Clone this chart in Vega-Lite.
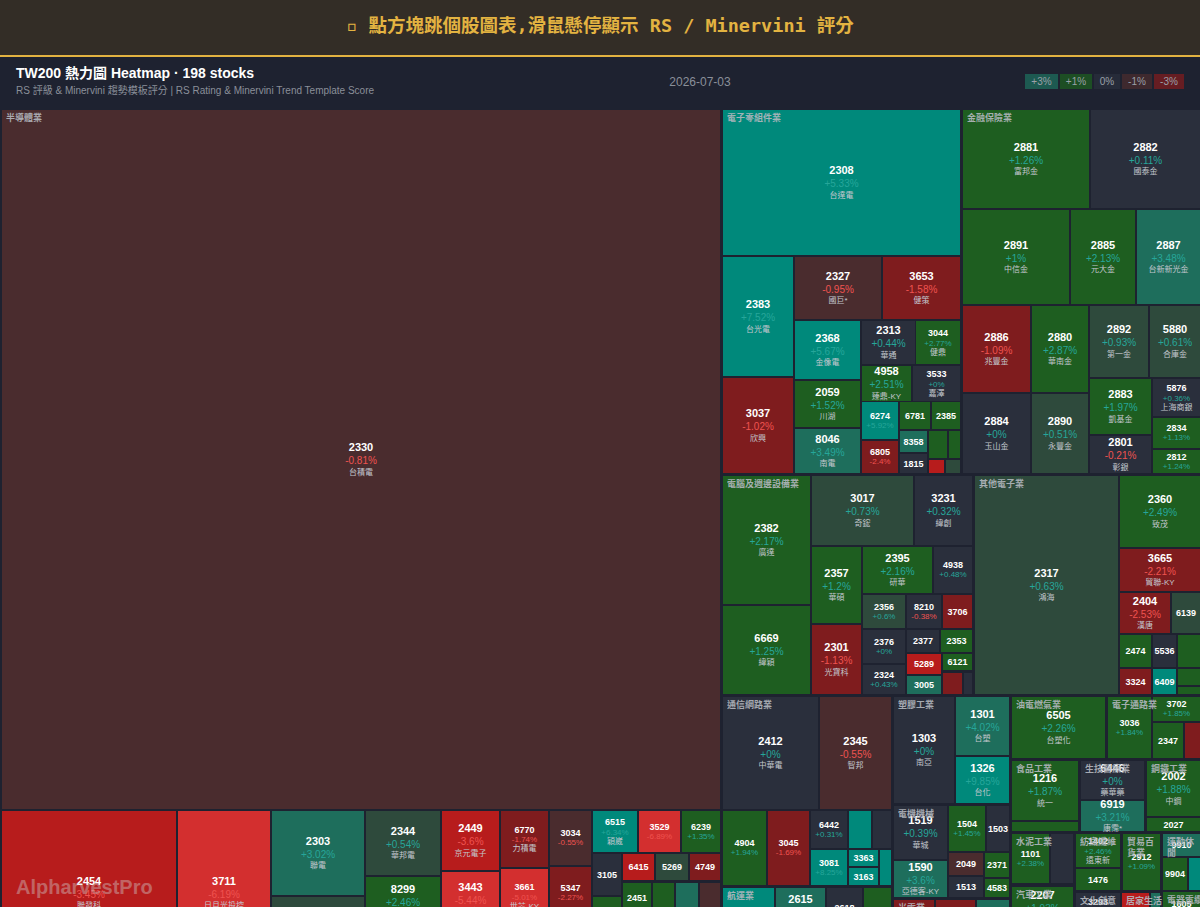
{
"$schema":"https://vega.github.io/schema/vega-lite/v6.json",
"width":1200,"height":907,"autosize":{"type":"fit","contains":"padding"},"padding":0,
"background":"#1e2230",
"config":{"view":{"stroke":null},"text":{"font":"Liberation Sans, Noto Sans CJK TC"}},
"datasets":{
"cells":[
{"c":"2330","n":"台積電","p":-0.81,"x0":2,"x1":720,"y0":110,"y1":809},
{"c":"2454","n":"聯發科","p":-3.45,"x0":2,"x1":176,"y0":811,"y1":975},
{"c":"3711","n":"日月光投控","p":-6.19,"x0":178,"x1":270,"y0":811,"y1":975},
{"c":"2303","n":"聯電","p":3.02,"x0":272,"x1":364,"y0":811,"y1":895},
{"c":"","n":"","p":0.7,"x0":272,"x1":364,"y0":897,"y1":960},
{"c":"2344","n":"華邦電","p":0.54,"x0":366,"x1":440,"y0":811,"y1":875},
{"c":"8299","n":"群聯","p":2.46,"x0":366,"x1":440,"y0":877,"y1":925},
{"c":"2449","n":"京元電子","p":-3.6,"x0":442,"x1":499,"y0":811,"y1":870},
{"c":"3443","n":"創意","p":-5.44,"x0":442,"x1":499,"y0":872,"y1":926},
{"c":"6770","n":"力積電","p":-1.74,"x0":501,"x1":548,"y0":811,"y1":867},
{"c":"3661","n":"世芯-KY","p":-5.01,"x0":501,"x1":548,"y0":869,"y1":924},
{"c":"3034","n":"聯詠","p":-0.55,"x0":550,"x1":591,"y0":811,"y1":865},
{"c":"5347","n":"世界","p":-2.27,"x0":550,"x1":591,"y0":867,"y1":919},
{"c":"6515","n":"穎崴","p":6.34,"x0":593,"x1":637,"y0":811,"y1":852},
{"c":"3529","n":"力旺","p":-6.89,"x0":639,"x1":680,"y0":811,"y1":852},
{"c":"6239","n":"力成","p":1.35,"x0":682,"x1":720,"y0":811,"y1":852},
{"c":"3105","n":"穩懋","p":0.2,"x0":593,"x1":621,"y0":854,"y1":895},
{"c":"6415","n":"矽力*-KY","p":-3.8,"x0":623,"x1":654,"y0":854,"y1":880},
{"c":"5269","n":"祥碩","p":0.8,"x0":656,"x1":688,"y0":854,"y1":880},
{"c":"4749","n":"新應材","p":-1.9,"x0":690,"x1":720,"y0":854,"y1":880},
{"c":"2451","n":"創見","p":1.5,"x0":623,"x1":651,"y0":883,"y1":913},
{"c":"","n":"","p":1.8,"x0":653,"x1":674,"y0":883,"y1":940},
{"c":"","n":"","p":3.5,"x0":676,"x1":698,"y0":883,"y1":940},
{"c":"","n":"","p":-0.7,"x0":700,"x1":720,"y0":883,"y1":940},
{"c":"","n":"","p":1.6,"x0":593,"x1":621,"y0":897,"y1":940},
{"c":"2308","n":"台達電","p":5.33,"x0":723,"x1":960,"y0":110,"y1":255},
{"c":"2383","n":"台光電","p":7.52,"x0":723,"x1":793,"y0":257,"y1":376},
{"c":"3037","n":"欣興","p":-1.02,"x0":723,"x1":793,"y0":378,"y1":473},
{"c":"2327","n":"國巨*","p":-0.95,"x0":795,"x1":881,"y0":257,"y1":319},
{"c":"3653","n":"健策","p":-1.58,"x0":883,"x1":960,"y0":257,"y1":319},
{"c":"2368","n":"金像電","p":5.67,"x0":795,"x1":860,"y0":321,"y1":379},
{"c":"2059","n":"川湖","p":1.52,"x0":795,"x1":860,"y0":381,"y1":427},
{"c":"8046","n":"南電","p":3.49,"x0":795,"x1":860,"y0":429,"y1":473},
{"c":"2313","n":"華通","p":0.44,"x0":862,"x1":915,"y0":321,"y1":364},
{"c":"3044","n":"健鼎","p":2.77,"x0":916,"x1":960,"y0":321,"y1":364},
{"c":"4958","n":"臻鼎-KY","p":2.51,"x0":862,"x1":911,"y0":366,"y1":401},
{"c":"3533","n":"嘉澤","p":0,"x0":913,"x1":960,"y0":366,"y1":401},
{"c":"6274","n":"台燿","p":5.92,"x0":862,"x1":898,"y0":402,"y1":439},
{"c":"6805","n":"富世達","p":-2.4,"x0":862,"x1":898,"y0":441,"y1":473},
{"c":"6781","n":"AES-KY","p":1.5,"x0":900,"x1":930,"y0":402,"y1":429},
{"c":"2385","n":"群光","p":1.2,"x0":932,"x1":960,"y0":402,"y1":429},
{"c":"8358","n":"金居","p":3.3,"x0":900,"x1":927,"y0":431,"y1":452},
{"c":"1815","n":"富喬","p":0.1,"x0":900,"x1":927,"y0":454,"y1":473},
{"c":"","n":"","p":1.4,"x0":929,"x1":947,"y0":431,"y1":458},
{"c":"","n":"","p":1.1,"x0":949,"x1":960,"y0":431,"y1":458},
{"c":"","n":"","p":-3.5,"x0":929,"x1":944,"y0":460,"y1":473},
{"c":"","n":"","p":0.6,"x0":946,"x1":960,"y0":460,"y1":473},
{"c":"2881","n":"富邦金","p":1.26,"x0":963,"x1":1089,"y0":110,"y1":208},
{"c":"2882","n":"國泰金","p":0.11,"x0":1091,"x1":1200,"y0":110,"y1":208},
{"c":"2891","n":"中信金","p":1,"x0":963,"x1":1069,"y0":210,"y1":304},
{"c":"2885","n":"元大金","p":2.13,"x0":1071,"x1":1135,"y0":210,"y1":304},
{"c":"2887","n":"台新新光金","p":3.48,"x0":1137,"x1":1200,"y0":210,"y1":304},
{"c":"2886","n":"兆豐金","p":-1.09,"x0":963,"x1":1030,"y0":306,"y1":392},
{"c":"2880","n":"華南金","p":2.87,"x0":1032,"x1":1088,"y0":306,"y1":392},
{"c":"2884","n":"玉山金","p":0,"x0":963,"x1":1030,"y0":394,"y1":473},
{"c":"2890","n":"永豐金","p":0.51,"x0":1032,"x1":1088,"y0":394,"y1":473},
{"c":"2892","n":"第一金","p":0.93,"x0":1090,"x1":1148,"y0":306,"y1":377},
{"c":"5880","n":"合庫金","p":0.61,"x0":1150,"x1":1200,"y0":306,"y1":377},
{"c":"2883","n":"凱基金","p":1.97,"x0":1090,"x1":1151,"y0":379,"y1":434},
{"c":"2801","n":"彰銀","p":-0.21,"x0":1090,"x1":1151,"y0":436,"y1":473},
{"c":"5876","n":"上海商銀","p":0.36,"x0":1153,"x1":1200,"y0":379,"y1":416},
{"c":"2834","n":"臺企銀","p":1.13,"x0":1153,"x1":1200,"y0":418,"y1":448},
{"c":"2812","n":"台中銀","p":1.24,"x0":1153,"x1":1200,"y0":450,"y1":473},
{"c":"2382","n":"廣達","p":2.17,"x0":723,"x1":810,"y0":476,"y1":604},
{"c":"6669","n":"緯穎","p":1.25,"x0":723,"x1":810,"y0":606,"y1":694},
{"c":"3017","n":"奇鋐","p":0.73,"x0":812,"x1":913,"y0":476,"y1":545},
{"c":"3231","n":"緯創","p":0.32,"x0":915,"x1":972,"y0":476,"y1":545},
{"c":"2357","n":"華碩","p":1.2,"x0":812,"x1":861,"y0":547,"y1":623},
{"c":"2301","n":"光寶科","p":-1.13,"x0":812,"x1":861,"y0":625,"y1":694},
{"c":"2395","n":"研華","p":2.16,"x0":863,"x1":932,"y0":547,"y1":593},
{"c":"4938","n":"和碩","p":0.48,"x0":934,"x1":972,"y0":547,"y1":593},
{"c":"2356","n":"英業達","p":0.6,"x0":863,"x1":905,"y0":595,"y1":628},
{"c":"2376","n":"技嘉","p":0,"x0":863,"x1":905,"y0":630,"y1":663},
{"c":"2324","n":"仁寶","p":0.43,"x0":863,"x1":905,"y0":665,"y1":694},
{"c":"8210","n":"勤誠","p":-0.38,"x0":907,"x1":941,"y0":595,"y1":628},
{"c":"3706","n":"神達","p":-1.5,"x0":943,"x1":972,"y0":595,"y1":628},
{"c":"2377","n":"微星","p":0.2,"x0":907,"x1":939,"y0":630,"y1":652},
{"c":"2353","n":"宏碁","p":1.3,"x0":941,"x1":972,"y0":630,"y1":652},
{"c":"5289","n":"宜鼎","p":-3.5,"x0":907,"x1":941,"y0":654,"y1":674},
{"c":"6121","n":"新普","p":1.4,"x0":943,"x1":972,"y0":654,"y1":670},
{"c":"3005","n":"神基","p":3.4,"x0":907,"x1":941,"y0":676,"y1":694},
{"c":"","n":"","p":-1.3,"x0":943,"x1":962,"y0":673,"y1":694},
{"c":"","n":"","p":0.1,"x0":964,"x1":972,"y0":673,"y1":694},
{"c":"2317","n":"鴻海","p":0.63,"x0":975,"x1":1118,"y0":476,"y1":694},
{"c":"2360","n":"致茂","p":2.49,"x0":1120,"x1":1200,"y0":476,"y1":547},
{"c":"3665","n":"貿聯-KY","p":-2.21,"x0":1120,"x1":1200,"y0":549,"y1":591},
{"c":"2404","n":"漢唐","p":-2.53,"x0":1120,"x1":1170,"y0":593,"y1":633},
{"c":"6139","n":"亞翔","p":0.7,"x0":1172,"x1":1200,"y0":593,"y1":633},
{"c":"2474","n":"可成","p":1.6,"x0":1120,"x1":1151,"y0":635,"y1":667},
{"c":"5536","n":"聖暉*","p":0.2,"x0":1153,"x1":1176,"y0":635,"y1":667},
{"c":"","n":"","p":1.2,"x0":1178,"x1":1200,"y0":635,"y1":667},
{"c":"3324","n":"雙鴻","p":-1.8,"x0":1120,"x1":1151,"y0":669,"y1":694},
{"c":"6409","n":"旭隼","p":6,"x0":1153,"x1":1176,"y0":669,"y1":694},
{"c":"","n":"","p":1.3,"x0":1178,"x1":1200,"y0":669,"y1":685},
{"c":"","n":"","p":1.1,"x0":1178,"x1":1200,"y0":687,"y1":694},
{"c":"2412","n":"中華電","p":0,"x0":723,"x1":818,"y0":697,"y1":809},
{"c":"2345","n":"智邦","p":-0.55,"x0":820,"x1":891,"y0":697,"y1":809},
{"c":"4904","n":"遠傳","p":1.94,"x0":723,"x1":766,"y0":811,"y1":885},
{"c":"3045","n":"台灣大","p":-1.69,"x0":768,"x1":809,"y0":811,"y1":885},
{"c":"6442","n":"光聖","p":0.31,"x0":811,"x1":847,"y0":811,"y1":848},
{"c":"","n":"","p":6,"x0":849,"x1":871,"y0":811,"y1":848},
{"c":"","n":"","p":0.1,"x0":873,"x1":891,"y0":811,"y1":848},
{"c":"3081","n":"聯亞","p":8.25,"x0":811,"x1":847,"y0":850,"y1":885},
{"c":"3363","n":"上詮","p":5.5,"x0":849,"x1":878,"y0":850,"y1":866},
{"c":"3163","n":"波若威","p":5.2,"x0":849,"x1":878,"y0":868,"y1":885},
{"c":"","n":"","p":5.1,"x0":880,"x1":891,"y0":850,"y1":885},
{"c":"","n":"","p":6,"x0":723,"x1":774,"y0":888,"y1":950},
{"c":"2615","n":"萬海","p":3.3,"x0":776,"x1":825,"y0":888,"y1":934},
{"c":"2618","n":"長榮航","p":0.2,"x0":827,"x1":862,"y0":888,"y1":938},
{"c":"","n":"","p":1.5,"x0":864,"x1":891,"y0":888,"y1":950},
{"c":"1303","n":"南亞","p":0,"x0":894,"x1":954,"y0":697,"y1":803},
{"c":"1301","n":"台塑","p":4.02,"x0":956,"x1":1009,"y0":697,"y1":755},
{"c":"1326","n":"台化","p":9.85,"x0":956,"x1":1009,"y0":757,"y1":803},
{"c":"1519","n":"華城","p":0.39,"x0":894,"x1":947,"y0":806,"y1":859},
{"c":"1590","n":"亞德客-KY","p":3.6,"x0":894,"x1":947,"y0":861,"y1":897},
{"c":"1504","n":"東元","p":1.45,"x0":949,"x1":985,"y0":806,"y1":851},
{"c":"1503","n":"士電","p":0.1,"x0":987,"x1":1009,"y0":806,"y1":851},
{"c":"2049","n":"上銀","p":-0.7,"x0":949,"x1":983,"y0":853,"y1":875},
{"c":"1513","n":"中興電","p":0.2,"x0":949,"x1":983,"y0":877,"y1":897},
{"c":"2371","n":"大同","p":1.5,"x0":985,"x1":1009,"y0":853,"y1":877},
{"c":"4583","n":"台灣精銳","p":1.6,"x0":985,"x1":1009,"y0":879,"y1":897},
{"c":"","n":"","p":-1.5,"x0":894,"x1":934,"y0":900,"y1":950},
{"c":"","n":"","p":-1.2,"x0":936,"x1":975,"y0":900,"y1":950},
{"c":"","n":"","p":3.5,"x0":977,"x1":1009,"y0":900,"y1":950},
{"c":"6505","n":"台塑化","p":2.26,"x0":1012,"x1":1105,"y0":697,"y1":758},
{"c":"3036","n":"文曄","p":1.84,"x0":1108,"x1":1151,"y0":697,"y1":758},
{"c":"3702","n":"大聯大","p":1.85,"x0":1153,"x1":1200,"y0":697,"y1":721},
{"c":"2347","n":"聯強","p":1.3,"x0":1153,"x1":1183,"y0":723,"y1":758},
{"c":"","n":"","p":-1.4,"x0":1185,"x1":1200,"y0":723,"y1":758},
{"c":"1216","n":"統一","p":1.87,"x0":1012,"x1":1078,"y0":761,"y1":820},
{"c":"","n":"","p":1.5,"x0":1012,"x1":1078,"y0":822,"y1":831},
{"c":"6446","n":"藥華藥","p":0,"x0":1081,"x1":1144,"y0":761,"y1":799},
{"c":"6919","n":"康霈*","p":3.21,"x0":1081,"x1":1144,"y0":801,"y1":831},
{"c":"2002","n":"中鋼","p":1.88,"x0":1147,"x1":1200,"y0":761,"y1":816},
{"c":"2027","n":"大成鋼","p":1.2,"x0":1147,"x1":1200,"y0":818,"y1":831},
{"c":"1101","n":"台泥","p":2.38,"x0":1012,"x1":1049,"y0":834,"y1":883},
{"c":"","n":"","p":0.2,"x0":1051,"x1":1073,"y0":834,"y1":883},
{"c":"1402","n":"遠東新","p":2.46,"x0":1076,"x1":1120,"y0":834,"y1":867},
{"c":"1476","n":"儒鴻","p":1.4,"x0":1076,"x1":1120,"y0":869,"y1":890},
{"c":"2912","n":"統一超","p":1.09,"x0":1123,"x1":1160,"y0":834,"y1":890},
{"c":"9910","n":"豐泰","p":3.3,"x0":1163,"x1":1200,"y0":834,"y1":856},
{"c":"9904","n":"寶成","p":1.5,"x0":1163,"x1":1187,"y0":858,"y1":890},
{"c":"","n":"","p":6,"x0":1189,"x1":1200,"y0":858,"y1":890},
{"c":"2207","n":"和泰車","p":1.93,"x0":1012,"x1":1073,"y0":887,"y1":928},
{"c":"3293","n":"鈊象","p":0.2,"x0":1076,"x1":1120,"y0":893,"y1":929},
{"c":"","n":"","p":-4,"x0":1122,"x1":1149,"y0":893,"y1":930},
{"c":"","n":"","p":3.4,"x0":1151,"x1":1160,"y0":893,"y1":930},
{"c":"1605","n":"華新","p":1.2,"x0":1163,"x1":1200,"y0":892,"y1":926}
],
"sectors":[
{"s":"半導體業","x0":2,"y0":110},
{"s":"電子零組件業","x0":723,"y0":110},
{"s":"金融保險業","x0":963,"y0":110},
{"s":"電腦及週邊設備業","x0":723,"y0":476},
{"s":"其他電子業","x0":975,"y0":476},
{"s":"通信網路業","x0":723,"y0":697},
{"s":"塑膠工業","x0":894,"y0":697},
{"s":"電機機械","x0":894,"y0":806},
{"s":"油電燃氣業","x0":1012,"y0":697},
{"s":"電子通路業","x0":1108,"y0":697},
{"s":"食品工業","x0":1012,"y0":761},
{"s":"生技醫療業","x0":1081,"y0":761},
{"s":"鋼鐵工業","x0":1147,"y0":761},
{"s":"水泥工業","x0":1012,"y0":834},
{"s":"紡織纖維","x0":1076,"y0":834},
{"s":"貿易百\n貨業","x0":1123,"y0":834},
{"s":"運動休\n閒","x0":1163,"y0":834},
{"s":"航運業","x0":723,"y0":888},
{"s":"光電業","x0":894,"y0":900},
{"s":"汽車工業","x0":1012,"y0":887},
{"s":"文化創意","x0":1076,"y0":893},
{"s":"居家生活","x0":1122,"y0":893},
{"s":"電器電纜","x0":1163,"y0":892}
],
"legend":[
{"t":"+3%","p":3,"x0":1025,"x1":1058,"y0":74,"y1":89},
{"t":"+1%","p":1,"x0":1060,"x1":1092,"y0":74,"y1":89},
{"t":"0%","p":0,"x0":1094,"x1":1120,"y0":74,"y1":89},
{"t":"-1%","p":-1,"x0":1122,"x1":1152,"y0":74,"y1":89},
{"t":"-3%","p":-3,"x0":1154,"x1":1184,"y0":74,"y1":89}
]
},
"encoding":{
"x":{"field":"x0","type":"quantitative","scale":{"domain":[0,1200],"nice":false,"zero":false},"axis":null},
"y":{"field":"y0","type":"quantitative","scale":{"domain":[0,907],"reverse":true,"nice":false,"zero":false},"axis":null}
},
"layer":[
{"data":{"values":[{"x0":0,"x1":1200,"y0":0,"y1":55}]},"mark":{"type":"rect","color":"#332d26"},
 "encoding":{"x2":{"field":"x1"},"y2":{"field":"y1"}}},
{"data":{"values":[{"x0":0,"x1":1200,"y0":55,"y1":57}]},"mark":{"type":"rect","color":"#e3b341"},
 "encoding":{"x2":{"field":"x1"},"y2":{"field":"y1"}}},
{"data":{"name":"cells"},"mark":{"type":"rect","clip":true},
 "encoding":{"x2":{"field":"x1"},"y2":{"field":"y1"},
  "color":{"field":"p","type":"quantitative","legend":null,
   "scale":{"type":"threshold","domain":[-5,-3,-1,-0.5,0.5,1,3,5],
    "range":["#d32f2f","#b71c1c","#7f1c1e","#4a2c2e","#2a2f3c","#2e4a3c","#1e5e20","#1e6e5c","#00897b"]}}}},
{"data":{"name":"cells"},
 "transform":[
  {"calculate":"datum.x1-datum.x0","as":"w"},{"calculate":"datum.y1-datum.y0","as":"h"},
  {"calculate":"(datum.x0+datum.x1)/2","as":"cx"},{"calculate":"(datum.y0+datum.y1)/2","as":"cy"},
  {"calculate":"datum.w>=48 && datum.h>=28","as":"big"},
  {"calculate":"datum.c=='' ? 0 : ((datum.w>=44 && datum.h>=32) || (datum.w>=48 && datum.h>=28)) ? 3 : (datum.w>=34 && datum.h>=23) ? 2 : (datum.w>=22 && datum.h>=13) ? 1 : 0","as":"lv"},
  {"filter":"datum.lv>=1"},
  {"calculate":"datum.lv==3 ? (datum.big ? datum.cy-11.5 : datum.cy-9.3) : datum.lv==2 ? datum.cy-5 : datum.cy","as":"ty"},
  {"calculate":"datum.big ? 11 : 9","as":"fs"}
 ],
 "mark":{"type":"text","clip":true,"fontWeight":"bold","color":"#ffffff","baseline":"middle","align":"center"},
 "encoding":{"x":{"field":"cx","type":"quantitative"},"y":{"field":"ty","type":"quantitative"},
  "text":{"field":"c"},"size":{"field":"fs","type":"quantitative","scale":null}}},
{"data":{"name":"cells"},
 "transform":[
  {"calculate":"datum.x1-datum.x0","as":"w"},{"calculate":"datum.y1-datum.y0","as":"h"},
  {"calculate":"(datum.x0+datum.x1)/2","as":"cx"},{"calculate":"(datum.y0+datum.y1)/2","as":"cy"},
  {"calculate":"datum.w>=48 && datum.h>=28","as":"big"},
  {"calculate":"datum.c=='' ? 0 : ((datum.w>=44 && datum.h>=32) || (datum.w>=48 && datum.h>=28)) ? 3 : (datum.w>=34 && datum.h>=23) ? 2 : (datum.w>=22 && datum.h>=13) ? 1 : 0","as":"lv"},
  {"filter":"datum.lv>=2"},
  {"calculate":"datum.lv==3 ? (datum.big ? datum.cy+1.5 : datum.cy+1) : datum.cy+5.3","as":"ty"},
  {"calculate":"datum.big ? 10 : 8","as":"fs"},
  {"calculate":"(datum.p>=0 ? '+' : '') + datum.p + '%'","as":"pt"}
 ],
 "mark":{"type":"text","clip":true,"baseline":"middle","align":"center"},
 "encoding":{"x":{"field":"cx","type":"quantitative"},"y":{"field":"ty","type":"quantitative"},
  "text":{"field":"pt"},"size":{"field":"fs","type":"quantitative","scale":null},
  "color":{"condition":{"test":"datum.p>=0","value":"#26a69a"},"value":"#ef5350"}}},
{"data":{"name":"cells"},
 "transform":[
  {"calculate":"datum.x1-datum.x0","as":"w"},{"calculate":"datum.y1-datum.y0","as":"h"},
  {"calculate":"(datum.x0+datum.x1)/2","as":"cx"},{"calculate":"(datum.y0+datum.y1)/2","as":"cy"},
  {"calculate":"datum.w>=48 && datum.h>=28","as":"big"},
  {"calculate":"datum.c=='' ? 0 : ((datum.w>=44 && datum.h>=32) || (datum.w>=48 && datum.h>=28)) ? 3 : (datum.w>=34 && datum.h>=23) ? 2 : (datum.w>=22 && datum.h>=13) ? 1 : 0","as":"lv"},
  {"filter":"datum.lv==3"},
  {"calculate":"datum.big ? datum.cy+13 : datum.cy+10","as":"ty"}
 ],
 "mark":{"type":"text","clip":true,"baseline":"middle","align":"center","fontSize":8,"color":"#c3c7ce"},
 "encoding":{"x":{"field":"cx","type":"quantitative"},"y":{"field":"ty","type":"quantitative"},"text":{"field":"n"}}},
{"data":{"name":"sectors"},
 "transform":[{"calculate":"datum.x0+4","as":"lx"},{"calculate":"datum.y0+7.5","as":"ly"}],
 "mark":{"type":"text","clip":true,"align":"left","baseline":"middle","fontSize":9,"fontWeight":"bold","color":"#b4b8bf","opacity":0.9,"lineBreak":"\n","lineHeight":11},
 "encoding":{"x":{"field":"lx","type":"quantitative"},"y":{"field":"ly","type":"quantitative"},"text":{"field":"s"}}},
{"data":{"name":"legend"},"mark":{"type":"rect","opacity":0.75},
 "encoding":{"x2":{"field":"x1"},"y2":{"field":"y1"},
  "color":{"field":"p","type":"quantitative","legend":null,
   "scale":{"type":"threshold","domain":[-5,-3,-1,-0.5,0.5,1,3,5],
    "range":["#d32f2f","#b71c1c","#7f1c1e","#4a2c2e","#2a2f3c","#2e4a3c","#1e5e20","#1e6e5c","#00897b"]}}}},
{"data":{"name":"legend"},
 "transform":[{"calculate":"(datum.x0+datum.x1)/2","as":"cx"},{"calculate":"(datum.y0+datum.y1)/2","as":"cy"}],
 "mark":{"type":"text","align":"center","baseline":"middle","fontSize":10,"color":"#9aa0a8"},
 "encoding":{"x":{"field":"cx","type":"quantitative"},"y":{"field":"cy","type":"quantitative"},"text":{"field":"t"}}},
{"data":{"values":[{"t":"▫ 點方塊跳個股圖表,滑鼠懸停顯示 RS / Minervini 評分","x":600,"y":26}]},
 "mark":{"type":"text","align":"center","baseline":"middle","fontSize":18.5,"fontWeight":"bold","color":"#e3b341","font":"DejaVu Sans Mono, Noto Sans CJK TC"},
 "encoding":{"x":{"field":"x","type":"quantitative"},"y":{"field":"y","type":"quantitative"},"text":{"field":"t"}}},
{"data":{"values":[{"t":"TW200 熱力圖 Heatmap · 198 stocks","x":16,"y":74}]},
 "mark":{"type":"text","align":"left","baseline":"middle","fontSize":14,"fontWeight":"bold","color":"#ffffff"},
 "encoding":{"x":{"field":"x","type":"quantitative"},"y":{"field":"y","type":"quantitative"},"text":{"field":"t"}}},
{"data":{"values":[{"t":"RS 評級 & Minervini 趨勢模板評分 | RS Rating & Minervini Trend Template Score","x":16,"y":91}]},
 "mark":{"type":"text","align":"left","baseline":"middle","fontSize":10,"color":"#8a8f99"},
 "encoding":{"x":{"field":"x","type":"quantitative"},"y":{"field":"y","type":"quantitative"},"text":{"field":"t"}}},
{"data":{"values":[{"t":"2026-07-03","x":700,"y":82}]},
 "mark":{"type":"text","align":"center","baseline":"middle","fontSize":12,"color":"#8a8f99"},
 "encoding":{"x":{"field":"x","type":"quantitative"},"y":{"field":"y","type":"quantitative"},"text":{"field":"t"}}},
{"data":{"values":[{"t":"AlpharvestPro","x":16,"y":888}]},
 "mark":{"type":"text","align":"left","baseline":"middle","fontSize":20,"fontWeight":"bold","color":"#d0d0d0","opacity":0.4},
 "encoding":{"x":{"field":"x","type":"quantitative"},"y":{"field":"y","type":"quantitative"},"text":{"field":"t"}}}
]
}
